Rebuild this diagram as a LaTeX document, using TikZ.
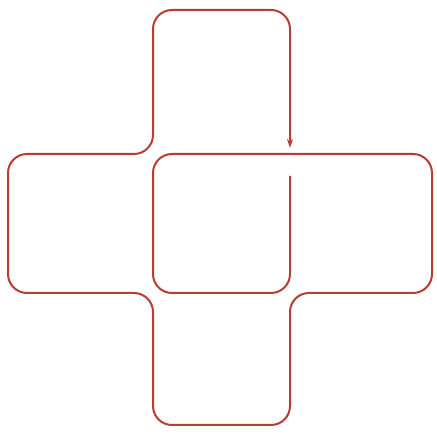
\documentclass[tikz,border=0pt]{standalone}
\usetikzlibrary{arrows.meta}
\definecolor{loopred}{RGB}{184,62,52}
\begin{document}
\begin{tikzpicture}[x=1pt,y=-1pt,
  loop/.style={draw=loopred,line width=2pt,rounded corners=19pt,line join=round}]
\useasboundingbox (0,0) rectangle (437,435);
\coordinate (start) at (290,176);
\coordinate (tip) at (290,148);
\draw[loop,-{Stealth[length=9pt,width=6pt]}]
  (start) -- (290,293) -- (153,293) -- (153,154) -- (432,154) -- (432,293)
  -- (290,293) -- (290,425) -- (153,425) -- (153,293) -- (8,293) -- (8,154)
  -- (153,154) -- (153,10) -- (290,10) -- (tip);
\end{tikzpicture}
\end{document}
